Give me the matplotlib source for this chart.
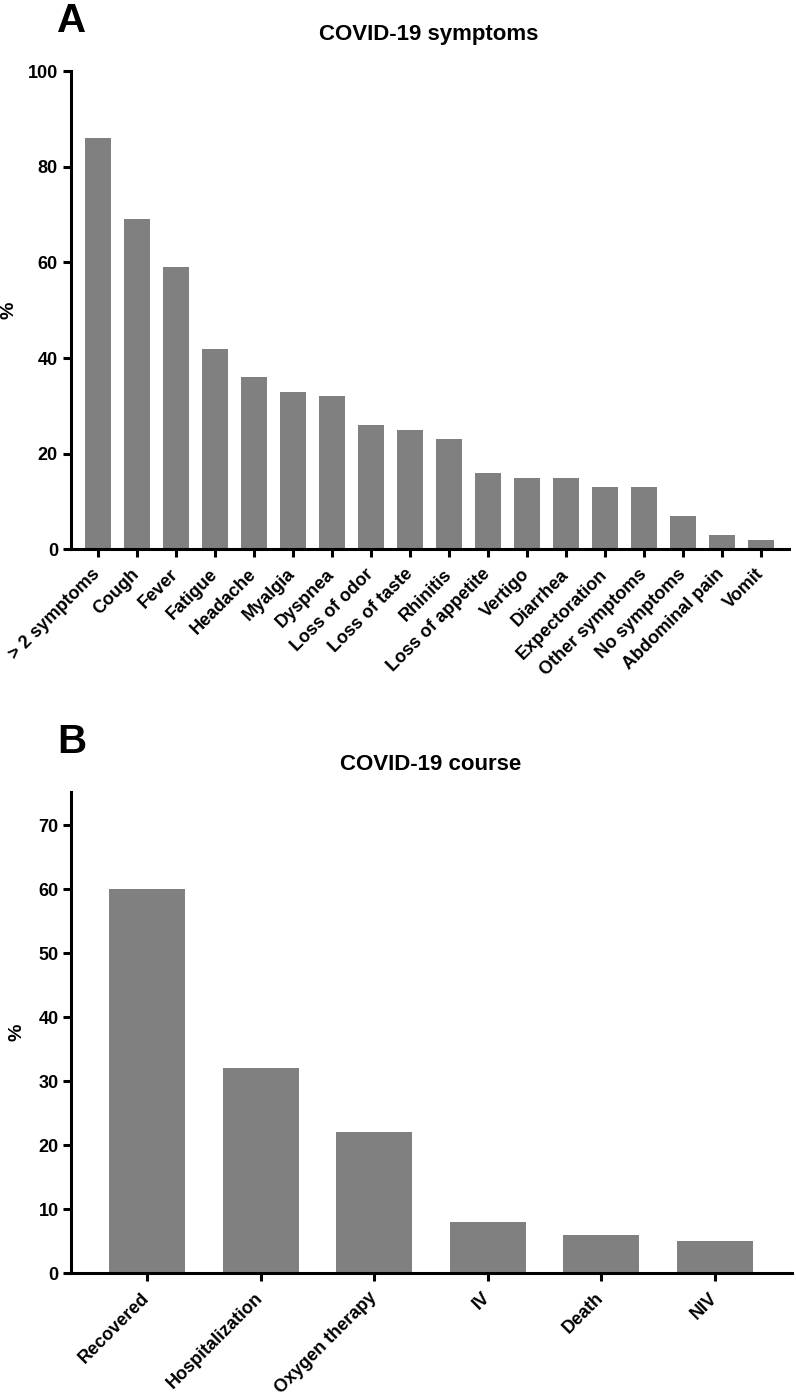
import matplotlib
matplotlib.use("Agg")
import matplotlib.pyplot as plt
import numpy as np

plt.rcParams["font.family"] = ["Liberation Sans", "DejaVu Sans"]
plt.rcParams["font.weight"] = "bold"

symptoms = ["> 2 symptoms", "Cough", "Fever", "Fatigue", "Headache", "Myalgia",
            "Dyspnea", "Loss of odor", "Loss of taste", "Rhinitis", "Loss of appetite",
            "Vertigo", "Diarrhea", "Expectoration", "Other symptoms", "No symptoms",
            "Abdominal pain", "Vomit"]
symptom_pct = [86, 69, 59, 42, 36, 33, 32, 26, 25, 23, 16, 15, 15, 13, 13, 7, 3, 2]

course = ["Recovered", "Hospitalization", "Oxygen therapy", "IV", "Death", "NIV"]
course_pct = [60, 32, 22, 8, 6, 5]

W, H = 796, 1398
BAR = "#808080"
LW = 2.2


def style(ax, ymax, yticks):
    for s in ["top", "right"]:
        ax.spines[s].set_visible(False)
    for s in ["left", "bottom"]:
        ax.spines[s].set_linewidth(LW)
        ax.spines[s].set_capstyle("projecting")
    ax.set_ylim(0, ymax)
    ax.set_yticks(yticks)
    ax.tick_params(axis="both", width=LW, length=6, labelsize=13)
    ax.tick_params(axis="y", pad=3)
    for t in ax.get_yticklabels():
        t.set_fontweight("bold")


def draw(ax, names, vals):
    x = np.arange(len(names))
    ax.bar(x, vals, width=0.67, color=BAR)
    ax.set_xticks(x)
    ax.set_xticklabels(names, rotation=45, ha="right", va="center",
                       rotation_mode="anchor", fontsize=13, fontweight="bold")
    ax.tick_params(axis="x", pad=10)


fig = plt.figure(figsize=(W / 100, H / 100), dpi=100)

ax1 = fig.add_axes([70.5 / W, 1 - 549.5 / H, (789 - 70.5) / W, (549.5 - 71) / H])
draw(ax1, symptoms, symptom_pct)
ax1.set_xlim(-0.7, len(symptoms) - 1 + 0.72)
style(ax1, 100, range(0, 101, 20))

ax2 = fig.add_axes([71 / W, 1 - 1273 / H, (792 - 71) / W, (1273 - 792) / H])
draw(ax2, course, course_pct)
ax2.set_xlim(-0.67, len(course) - 1 + 0.68)
style(ax2, 75.2, range(0, 71, 10))

fig.text(57 / W, 1 - 32 / H, "A", fontsize=29, fontweight="bold", va="baseline")
fig.text(57 / W, 1 - 753 / H, "B", fontsize=29, fontweight="bold", va="baseline")
fig.text(429 / W, 1 - 40 / H, "COVID-19 symptoms", fontsize=16, fontweight="bold",
         ha="center", va="baseline")
fig.text(431 / W, 1 - 770 / H, "COVID-19 course", fontsize=16, fontweight="bold",
         ha="center", va="baseline")
fig.text(9 / W, 1 - 310 / H, "%", fontsize=14, fontweight="bold", rotation=90,
         ha="center", va="center")
fig.text(17 / W, 1 - 1032 / H, "%", fontsize=14, fontweight="bold", rotation=90,
         ha="center", va="center")

fig.savefig("out.png", dpi=100)
